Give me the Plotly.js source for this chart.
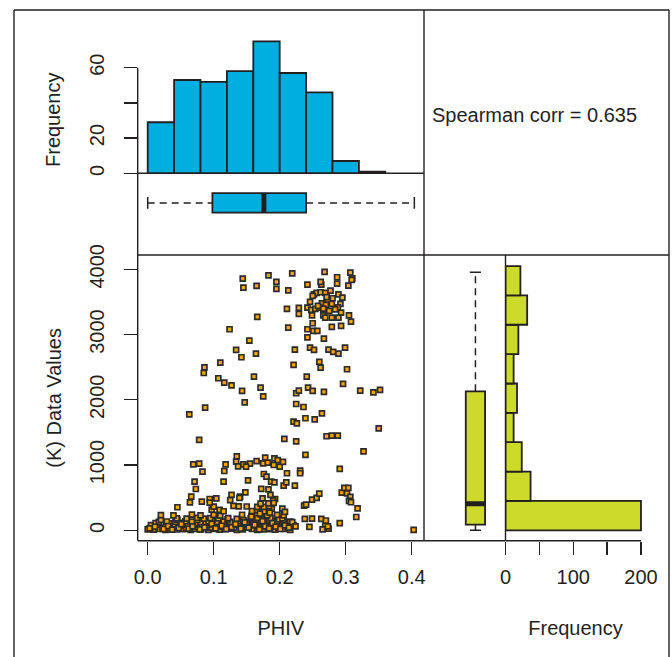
<!DOCTYPE html>
<html><head><meta charset="utf-8">
<script src="https://cdn.plot.ly/plotly-3.0.1.min.js"></script>
<style>html,body{margin:0;padding:0;background:#fff}#chart{width:672px;height:657px}</style>
</head><body><div id="chart"></div>
<script>
// ---------------- DATA ----------------
const phivTicks = [0, 0.1, 0.2, 0.3, 0.4];
const phivTickLabels = ['0.0', '0.1', '0.2', '0.3', '0.4'];
const kTicks = [0, 1000, 2000, 3000, 4000];
const kTickLabels = ['0', '1000', '2000', '3000', '4000'];
const topFreqTicks = [0, 20, 40, 60];
const topFreqLabels = ['0', '20', '', '60'];
const sideFreqTicks = [0, 50, 100, 150, 200];
const sideFreqLabels = ['0', '', '100', '', '200'];

const phivBinStarts = [0, 0.04, 0.08, 0.12, 0.16, 0.20, 0.24, 0.28, 0.32];
const phivBinWidth = 0.04;
const phivCounts = [29, 53, 52, 58, 75, 57, 46, 7, 1];

const kBinStarts = [0, 450, 900, 1350, 1800, 2250, 2700, 3150, 3600];
const kBinWidth = 450;
const kCounts = [200, 37, 24, 12, 17, 12, 19, 32, 22];

// min, q1, median, q3, max
const phivBoxStats = [0, 0.098, 0.176, 0.240, 0.404];
const kBoxStats = [0, 86, 408, 2130, 3954];

const spearmanCorr = 0.635;

// scatter points: upper-left group
const phivA = [0.144,0.145,0.165,0.183,0.195,0.195,0.219,0.213,0.166,0.124,
  0.154,0.134,0.142,0.164,0.110,0.086,0.085,0.107,0.116,0.127,
  0.161,0.143,0.171,0.175,0.147,0.087,0.063,0.078];
const kA = [3857,3719,3745,3908,3806,3699,3939,3678,3270,3081,
  2907,2764,2652,2708,2570,2498,2411,2330,2263,2222,
  2355,2136,2187,2054,1962,1880,1778,1385];
// upper-right group
const phivB = [0.268,0.287,0.307,0.310,0.309,0.304,0.287,0.263,0.262,0.211,
  0.229,0.229,0.213,0.223,0.221,0.242,0.252,0.256,0.250,0.262,
  0.269,0.277,0.289,0.295,0.280,0.273,0.264,0.270,0.279,0.292,
  0.288,0.242,0.248,0.254,0.260,0.266,0.275,0.293,0.249,0.266,
  0.269,0.279,0.289,0.305,0.308,0.250,0.242,0.251,0.257,0.242,
  0.267,0.279,0.293,0.246,0.252,0.274,0.281,0.289,0.299,0.260,
  0.262,0.302,0.241,0.243,0.250,0.267,0.296,0.225,0.229,0.225,
  0.236,0.221,0.226,0.239,0.253,0.264,0.271,0.279,0.288,0.322,
  0.342,0.352,0.350,0.327,0.207,0.225,0.258,0.284,0.271,0.246];
const kB = [3960,3878,3949,3862,3837,3750,3781,3765,3806,3392,
  3408,3316,3106,2769,2534,3765,3617,3638,3592,3648,
  3638,3673,3617,3566,3556,3530,3479,3454,3469,3469,
  3418,3413,3377,3392,3413,3398,3362,3336,3295,3295,
  3260,3260,3260,3295,3198,3173,3081,3055,3055,2958,
  2938,3117,3132,2800,2764,2769,2733,2708,2800,2580,
  2493,2468,2355,2187,2136,2120,2243,2100,2141,1936,
  1890,1666,1640,1717,1701,1793,1441,1451,1451,2141,
  2115,2151,1563,1211,1400,1364,3440,3385,3575,3500];
// around 1000
const phivC = [0.069,0.078,0.083,0.135,0.118,0.116,0.134,0.137,0.145,0.155,
  0.149,0.178,0.192,0.197,0.175,0.182,0.191,0.200,0.239,0.291,0.231,0.165,0.205];
const kC = [1011,1021,898,1134,1011,909,1052,981,1011,1021,
  975,1113,1103,1077,1027,1036,1001,975,1155,940,915,1060,1050];
// 450 - 900
const phivD = [0.071,0.073,0.066,0.094,0.104,0.115,0.127,0.152,0.148,0.140,
  0.176,0.180,0.187,0.192,0.172,0.183,0.186,0.193,0.174,0.211,
  0.206,0.210,0.223,0.249,0.256,0.260,0.294,0.298,0.304,0.302,
  0.307,0.305,0.231,0.125,0.139,0.190];
const kD = [745,633,516,480,490,745,542,766,582,516,
  863,822,745,735,634,628,542,480,490,874,
  685,736,685,470,496,562,577,649,649,567,
  511,450,874,462,498,460];
// dense low band 0 - 450
const phivE = [0.000,0.009,0.018,0.027,0.034,0.044,0.054,0.065,0.072,0.081,0.092,0.100,0.109,0.118,0.128,0.135,0.144,0.158,0.166,0.176,0.186,0.193,0.206,0.216,
  0.005,0.022,0.040,0.058,0.076,0.095,0.113,0.131,0.150,0.168,0.180,0.198,0.212,
  0.005,0.014,0.028,0.039,0.049,0.060,0.070,0.082,0.090,0.100,0.110,0.120,0.130,0.140,0.150,0.160,0.171,0.181,0.191,0.201,0.211,0.221,0.269,
  0.012,0.033,0.052,0.072,0.088,0.105,0.123,0.138,0.155,0.173,0.188,0.203,0.215,
  0.017,0.029,0.042,0.057,0.067,0.080,0.092,0.105,0.115,0.125,0.138,0.150,0.160,0.173,0.186,0.196,0.206,0.216,0.291,
  0.020,0.045,0.075,0.098,0.121,0.145,0.165,0.182,0.199,
  0.044,0.059,0.075,0.085,0.095,0.107,0.122,0.135,0.156,0.166,0.176,0.186,0.204,0.238,0.249,0.263,0.270,
  0.020,0.039,0.067,0.080,0.100,0.110,0.143,0.158,0.171,0.181,0.196,0.206,0.316,
  0.097,0.109,0.115,0.158,0.166,0.176,0.188,0.204,0.208,
  0.045,0.100,0.130,0.138,0.150,0.166,0.176,0.184,0.237,0.318,0.240,
  0.064,0.082,0.094,0.171,0.183,0.191,0.308,
  0.265,0.274,0.245,0.403,0.273,
  0.003,0.011,0.024,0.031,0.037,0.047,0.051,0.062,0.068,0.079,0.086,0.097,0.103,0.112,0.119,0.127,0.133,0.141,0.147,0.153,0.162,0.169,0.174,0.178,0.184,0.189,0.194,0.201,0.208,0.214,0.219,0.224,0.157,0.170,0.185];
const kE = [15,10,20,5,25,12,18,8,22,14,6,20,10,16,24,8,12,20,6,14,18,10,22,8,
  45,40,50,38,48,42,52,40,46,44,50,38,48,
  80,85,78,90,75,82,88,80,76,92,84,78,86,80,90,76,84,88,78,82,86,80,70,
  110,105,115,108,112,104,118,110,106,114,108,112,105,
  130,135,128,138,132,126,136,130,134,128,140,132,126,136,130,138,128,134,110,
  160,165,158,162,168,156,164,160,166,
  185,180,190,178,186,182,188,176,184,190,180,186,182,174,179,174,150,
  234,228,240,230,236,226,238,232,242,230,236,228,204,
  318,312,292,296,305,292,330,332,281,
  353,362,373,368,365,358,360,370,378,337,393,
  429,439,424,409,414,420,430,
  15,25,51,5,61,
  30,55,20,65,10,35,95,25,60,15,45,100,30,70,20,50,95,25,120,40,85,15,140,60,30,110,55,20,75,40,125,60,210,255,270];

const phiv = [].concat(phivA, phivB, phivC, phivD, phivE);
const kval = [].concat(kA, kB, kC, kD, kE);

// ---------------- LAYOUT GEOMETRY (pixels) ----------------
const W = 672, H = 657;
const px = v => v / W;
const py = v => 1 - v / H;
const frameL = 14, frameR = 669, frameT = 10;
const Lx = 137.7, Rx = 424, Rbox = 505.5, RhistEnd = 645.5;
const Ty = 255, By = 540.7, histBase = 173.3, histTop = 10;
const phiv0px = 147.7, phivScale = 660;
const k0py = 530.3, kScale = 0.06525;
const histScale = 1.76;
const freq0px = 505.5, freqScale = 0.6775;

const ink = '#231f20';
const blue = '#00AEDF';
const lime = '#CCDB2A';
const orange = '#FFA500';
const fontFam = 'Liberation Sans, Arial, Helvetica, sans-serif';
const tf = {family: fontFam, size: 20, color: ink};

const xRange = [(Lx - phiv0px) / phivScale, (Rx - phiv0px) / phivScale];
const yRange = [(k0py - By) / kScale, (k0py - Ty) / kScale];
const y2Range = [0, (histBase - histTop) / histScale];
const x5Range = [(Rbox - freq0px) / freqScale, (RhistEnd - freq0px) / freqScale];

const hidden = {showline:false, showgrid:false, zeroline:false, showticklabels:false, ticks:''};

// box geometry (fractions of their panels)
const topBoxPos = 0.638, topBoxW = 0.241, topCap = 0.073;
const sideBoxPos = 0.631, sideBoxW = 0.237, sideCap = 0.068;

const phivCenters = phivBinStarts.map(s => s + phivBinWidth / 2);
const kCenters = kBinStarts.map(s => s + kBinWidth / 2);

const [pMin, pQ1, pMed, pQ3, pMax] = phivBoxStats;
const [kMin, kQ1, kMed, kQ3, kMax] = kBoxStats;

const traces = [
  {type:'scatter', mode:'markers', x: phiv, y: kval, xaxis:'x', yaxis:'y',
   marker:{symbol:'square', size:5, color: orange, line:{color:'#2b2b2b', width:1.7}}, hoverinfo:'skip'},
  {type:'bar', x: phivCenters, y: phivCounts, width: phivBinWidth, xaxis:'x2', yaxis:'y2',
   marker:{color: blue, line:{color: ink, width:1.8}}},
  // top horizontal boxplot
  {type:'scatter', mode:'lines', x:[pMin, pQ1, null, pQ3, pMax], y:[topBoxPos, topBoxPos, null, topBoxPos, topBoxPos],
   xaxis:'x3', yaxis:'y3', line:{color: ink, width:1.5, dash:'7px,5px'}},
  {type:'scatter', mode:'lines', x:[pMin, pMin, null, pMax, pMax],
   y:[topBoxPos - topCap, topBoxPos + topCap, null, topBoxPos - topCap, topBoxPos + topCap],
   xaxis:'x3', yaxis:'y3', line:{color: ink, width:1.5}},
  {type:'box', orientation:'h', y:[topBoxPos], q1:[pQ1], median:[pMed], q3:[pQ3], lowerfence:[pQ1], upperfence:[pQ3],
   width: topBoxW, whiskerwidth:0, xaxis:'x3', yaxis:'y3', fillcolor: blue, line:{color: ink, width:1.8}, boxpoints:false},
  {type:'scatter', mode:'lines', x:[pMed, pMed], y:[topBoxPos - topBoxW/2, topBoxPos + topBoxW/2],
   xaxis:'x3', yaxis:'y3', line:{color: ink, width:5}},
  // side vertical boxplot
  {type:'scatter', mode:'lines', y:[kMin, kQ1, null, kQ3, kMax], x:[sideBoxPos, sideBoxPos, null, sideBoxPos, sideBoxPos],
   xaxis:'x4', yaxis:'y4', line:{color: ink, width:1.5, dash:'7px,5px'}},
  {type:'scatter', mode:'lines', y:[kMin, kMin, null, kMax, kMax],
   x:[sideBoxPos - sideCap, sideBoxPos + sideCap, null, sideBoxPos - sideCap, sideBoxPos + sideCap],
   xaxis:'x4', yaxis:'y4', line:{color: ink, width:1.5}},
  {type:'box', x:[sideBoxPos], q1:[kQ1], median:[kMed], q3:[kQ3], lowerfence:[kQ1], upperfence:[kQ3],
   width: sideBoxW, whiskerwidth:0, xaxis:'x4', yaxis:'y4', fillcolor: lime, line:{color: ink, width:1.8}, boxpoints:false},
  {type:'scatter', mode:'lines', y:[kMed, kMed], x:[sideBoxPos - sideBoxW/2, sideBoxPos + sideBoxW/2],
   xaxis:'x4', yaxis:'y4', line:{color: ink, width:5}},
  // side histogram
  {type:'bar', orientation:'h', y: kCenters, x: kCounts, width: kBinWidth, xaxis:'x5', yaxis:'y5',
   marker:{color: lime, line:{color: ink, width:1.8}}}
];

const axTicks = {ticks:'outside', ticklen:13, tickwidth:1.3, tickcolor: ink, showline:false, showgrid:false, zeroline:false, tickfont: tf};

const seg = (x0, y0, x1, y1) => ({type:'line', xref:'paper', yref:'paper', x0:px(x0), y0:py(y0), x1:px(x1), y1:py(y1),
  line:{color: ink, width:1.4}, layer:'above'});

const layout = {
  width: W, height: H, margin:{l:0, r:0, t:0, b:0}, showlegend:false,
  paper_bgcolor:'#fff', plot_bgcolor:'rgba(0,0,0,0)', bargap:0,
  font: tf,
  xaxis: Object.assign({}, axTicks, {domain:[px(Lx), px(Rx)], range:xRange, anchor:'y', ticklabelstandoff:5,
    tickvals: phivTicks, ticktext: phivTickLabels, title:{text:'PHIV', font: tf, standoff: 34}}),
  yaxis: Object.assign({}, axTicks, {domain:[py(By), py(Ty)], range:yRange, anchor:'x', ticklabelstandoff:12,
    tickvals: kTicks, ticktext: kTickLabels, tickangle:-90, title:{text:'(K) Data Values', font: tf, standoff: 18}}),
  xaxis2: Object.assign({}, hidden, {domain:[px(Lx), px(Rx)], matches:'x', anchor:'y2'}),
  yaxis2: Object.assign({}, axTicks, {domain:[py(histBase), py(histTop)], range:y2Range, anchor:'x2', ticklabelstandoff:12,
    tickvals: topFreqTicks, ticktext: topFreqLabels, tickangle:-90}),
  xaxis3: Object.assign({}, hidden, {domain:[px(Lx), px(Rx)], matches:'x', anchor:'y3'}),
  yaxis3: Object.assign({}, hidden, {domain:[py(Ty), py(histBase)], range:[0,1], anchor:'x3'}),
  xaxis4: Object.assign({}, hidden, {domain:[px(Rx), px(Rbox)], range:[0,1], anchor:'y4'}),
  yaxis4: Object.assign({}, hidden, {domain:[py(By), py(Ty)], matches:'y', anchor:'x4'}),
  xaxis5: Object.assign({}, axTicks, {domain:[px(Rbox), px(RhistEnd)], range:x5Range, anchor:'y5', ticklabelstandoff:5,
    tickvals: sideFreqTicks, ticktext: sideFreqLabels, title:{text:'Frequency', font: tf, standoff: 34}}),
  yaxis5: Object.assign({}, hidden, {domain:[py(By), py(Ty)], matches:'y', anchor:'x5'}),
  shapes: [
    seg(frameL, frameT, frameR, frameT),
    seg(frameL, frameT, frameL, H + 5),
    seg(frameR, frameT, frameR, H + 5),
    seg(Rx, frameT, Rx, By),
    seg(Lx, histBase, Rx, histBase),
    seg(Lx, Ty, frameR, Ty),
    seg(Lx, By, Rbox, By),
    seg(Lx, histBase, Lx, By),
    seg(Rbox, Ty, Rbox, By),
    {type:'line', xref:'paper', yref:'y2', x0:px(Lx), x1:px(Lx), y0:topFreqTicks[0], y1:topFreqTicks[topFreqTicks.length-1],
     line:{color: ink, width:1.4}, layer:'above'},
    {type:'line', xref:'x5', yref:'paper', x0:sideFreqTicks[0], x1:sideFreqTicks[sideFreqTicks.length-1], y0:py(By), y1:py(By),
     line:{color: ink, width:1.4}, layer:'above'}
  ],
  annotations: [
    {text:'Spearman corr = ' + spearmanCorr.toFixed(3), xref:'paper', yref:'paper', x:px(430), y:py(115),
     xanchor:'left', yanchor:'middle', showarrow:false, font: tf},
    {text:'Frequency', xref:'paper', yref:'paper', x:px(53), y:py(120), textangle:-90,
     xanchor:'center', yanchor:'middle', showarrow:false, font: tf}
  ]
};

Plotly.newPlot('chart', traces, layout, {displayModeBar:false, staticPlot:true});
</script>
</body></html>
